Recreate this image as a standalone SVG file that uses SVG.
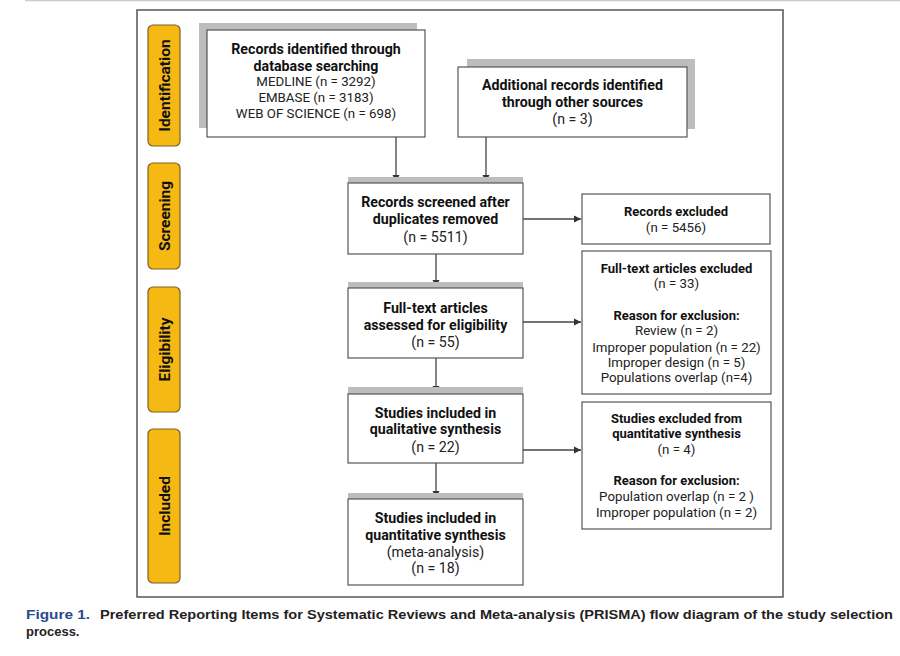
<svg xmlns="http://www.w3.org/2000/svg" width="900" height="656" viewBox="0 0 900 656">
<style>
.frame{fill:#fff;stroke:#555;stroke-width:1.5}
.lab{fill:#f6b813;stroke:#7a6224;stroke-width:1.2}
.labt{font-family:Roboto,"Liberation Sans",sans-serif;font-weight:bold;font-size:15.5px;fill:#111;text-anchor:middle}
.box{fill:#fff;stroke:#555;stroke-width:1.2}
.sh{fill:#bdbdbd}
.b{font-family:Roboto,"Liberation Sans",sans-serif;font-weight:bold;font-size:14.2px;fill:#111;text-anchor:middle}
.r{font-family:Roboto,"Liberation Sans",sans-serif;font-size:14.2px;fill:#222;text-anchor:middle}
.rs{font-family:Roboto,"Liberation Sans",sans-serif;font-size:13.3px;fill:#222;text-anchor:middle}
.bs{font-family:Roboto,"Liberation Sans",sans-serif;font-weight:bold;font-size:13px;fill:#111;text-anchor:middle}
.ln{stroke:#444;stroke-width:1.3;fill:none}
.cap{font-family:"Liberation Sans",Arial,sans-serif;font-weight:bold;font-size:13px;fill:#222}
</style>
<defs>
<marker id="ah" markerWidth="8" markerHeight="8" refX="7" refY="4" orient="auto" markerUnits="userSpaceOnUse">
<path d="M0,0.5 L7,4 L0,7.5 Z" fill="#333"/>
</marker>
</defs>
<rect width="900" height="656" fill="#fff"/>
<line x1="25" y1="0.5" x2="900" y2="0.5" stroke="#ccc" stroke-width="1.5"/>
<rect class="frame" x="137" y="10" width="646" height="587"/>

<g id="lab-identification">
<rect class="lab" x="148" y="25" width="32" height="121" rx="5"/>
<text class="labt" transform="translate(170,85.5) rotate(-90)">Identification</text>
</g>
<g id="lab-screening">
<rect class="lab" x="148" y="163" width="32" height="106" rx="5"/>
<text class="labt" transform="translate(170,216) rotate(-90)">Screening</text>
</g>
<g id="lab-eligibility">
<rect class="lab" x="148" y="287" width="32" height="125" rx="5"/>
<text class="labt" transform="translate(170,349.5) rotate(-90)">Eligibility</text>
</g>
<g id="lab-included">
<rect class="lab" x="148" y="429" width="32" height="154" rx="5"/>
<text class="labt" transform="translate(170,506) rotate(-90)">Included</text>
</g>

<g id="connectors">
<line class="ln" x1="396" y1="137" x2="396" y2="182" marker-end="url(#ah)"/>
<line class="ln" x1="486" y1="137" x2="486" y2="182" marker-end="url(#ah)"/>
<line class="ln" x1="523" y1="219" x2="581" y2="219" marker-end="url(#ah)"/>
<line class="ln" x1="436" y1="254" x2="436" y2="287" marker-end="url(#ah)"/>
<line class="ln" x1="523" y1="322" x2="581" y2="322" marker-end="url(#ah)"/>
<line class="ln" x1="436" y1="358" x2="436" y2="393" marker-end="url(#ah)"/>
<line class="ln" x1="523" y1="450" x2="581" y2="450" marker-end="url(#ah)"/>
<line class="ln" x1="436" y1="463" x2="436" y2="498" marker-end="url(#ah)"/>
</g>

<g id="n-database">
<rect class="sh" x="199" y="23" width="218" height="105"/>
<rect class="box" x="207" y="30" width="218" height="107"/>
<text class="b" x="316" y="54">Records identified through</text>
<text class="b" x="316" y="71">database searching</text>
<text class="rs" x="316" y="86">MEDLINE (n = 3292)</text>
<text class="rs" x="316" y="102">EMBASE (n = 3183)</text>
<text class="rs" x="316" y="118">WEB OF SCIENCE (n = 698)</text>
</g>

<g id="n-other">
<rect class="sh" x="467" y="59" width="228" height="70"/>
<rect class="box" x="458" y="67" width="229" height="70"/>
<text class="b" x="572.5" y="90">Additional records identified</text>
<text class="b" x="572.5" y="107">through other sources</text>
<text class="r" x="572.5" y="124">(n = 3)</text>
</g>

<g id="n-screened">
<rect class="sh" x="348" y="177" width="175" height="8"/>
<rect class="box" x="348" y="183" width="175" height="71"/>
<text class="b" x="435.5" y="207">Records screened after</text>
<text class="b" x="435.5" y="224">duplicates removed</text>
<text class="r" x="435.5" y="242">(n = 5511)</text>
</g>

<g id="n-rec-excluded">
<rect class="box" x="582" y="194" width="188" height="50"/>
<text class="bs" x="676" y="216">Records excluded</text>
<text class="rs" x="676" y="232">(n = 5456)</text>
</g>

<g id="n-fulltext">
<rect class="sh" x="348" y="282" width="175" height="8"/>
<rect class="box" x="348" y="288" width="175" height="70"/>
<text class="b" x="435.5" y="313">Full-text articles</text>
<text class="b" x="435.5" y="330">assessed for eligibility</text>
<text class="r" x="435.5" y="347">(n = 55)</text>
</g>

<g id="n-ft-excluded">
<rect class="box" x="582" y="251" width="189" height="143"/>
<text class="bs" x="676.5" y="273">Full-text articles excluded</text>
<text class="rs" x="676.5" y="288">(n = 33)</text>
<text class="bs" x="676.5" y="320">Reason for exclusion:</text>
<text class="rs" x="676.5" y="335">Review (n = 2)</text>
<text class="rs" x="676.5" y="352">Improper population (n = 22)</text>
<text class="rs" x="676.5" y="367">Improper design (n = 5)</text>
<text class="rs" x="676.5" y="382">Populations overlap (n=4)</text>
</g>

<g id="n-qualitative">
<rect class="sh" x="348" y="387" width="175" height="8"/>
<rect class="box" x="348" y="394" width="175" height="69"/>
<text class="b" x="435.5" y="418">Studies included in</text>
<text class="b" x="435.5" y="434">qualitative synthesis</text>
<text class="r" x="435.5" y="452">(n = 22)</text>
</g>

<g id="n-st-excluded">
<rect class="box" x="582" y="402" width="189" height="127"/>
<text class="bs" x="676.5" y="423">Studies excluded from</text>
<text class="bs" x="676.5" y="438">quantitative synthesis</text>
<text class="rs" x="676.5" y="454">(n = 4)</text>
<text class="bs" x="676.5" y="485">Reason for exclusion:</text>
<text class="rs" x="676.5" y="501">Population overlap (n = 2 )</text>
<text class="rs" x="676.5" y="517">Improper population (n = 2)</text>
</g>

<g id="n-quantitative">
<rect class="sh" x="348" y="493" width="175" height="8"/>
<rect class="box" x="348" y="499" width="175" height="86"/>
<text class="b" x="435.5" y="523">Studies included in</text>
<text class="b" x="435.5" y="540">quantitative synthesis</text>
<text class="r" x="435.5" y="557">(meta-analysis)</text>
<text class="r" x="435.5" y="573">(n = 18)</text>
</g>

<g id="caption">
<text class="cap" x="26" y="619" style="fill:#2a4a8c" textLength="64" lengthAdjust="spacingAndGlyphs">Figure 1.</text>
<text class="cap" x="100" y="619" textLength="793" lengthAdjust="spacingAndGlyphs">Preferred Reporting Items for Systematic Reviews and Meta-analysis (PRISMA) flow diagram of the study selection</text>
<text class="cap" x="26" y="636">process.</text>
</g>
</svg>
